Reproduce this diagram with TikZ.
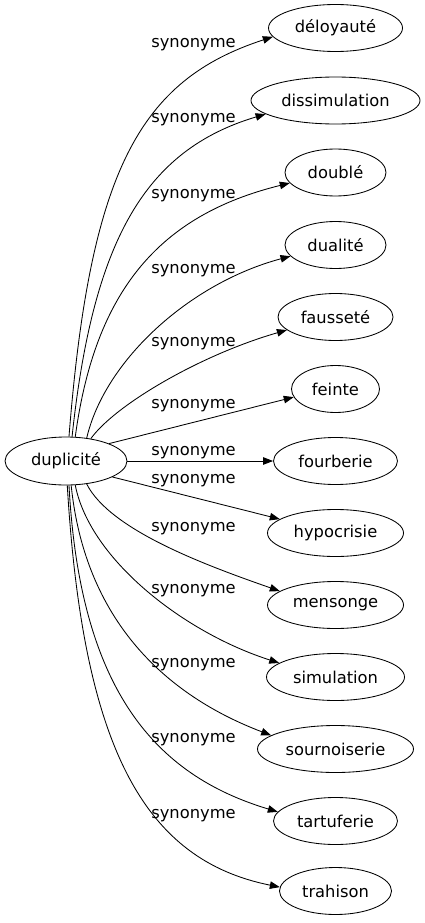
\documentclass[tikz,border=0pt]{standalone}
\usepackage{fontspec}
\setmainfont{DejaVu Sans}
\usetikzlibrary{arrows.meta,shapes.geometric}
\begin{document}
\begin{tikzpicture}[x=1pt,y=-1pt,
  word/.style={draw, ellipse, inner sep=0pt, minimum height=47pt, line width=0.85pt, font=\fontsize{16.3}{19}\selectfont},
  edge/.style={line width=0.85pt, -{Triangle[length=10pt,width=7.5pt]}},
  lbl/.style={font=\fontsize{16.3}{19}\selectfont, inner sep=0pt}]
\useasboundingbox (0,0) rectangle (425,923);
\node[word, minimum width=122pt, minimum height=48pt] (src) at (66,461) {duplicité};
\node[word, minimum width=134pt] (t1) at (335.5,28) {déloyauté};
\node[word, minimum width=169pt] (t2) at (335.5,100.5) {dissimulation};
\node[word, minimum width=101pt] (t3) at (335.5,172.5) {doublé};
\node[word, minimum width=101pt] (t4) at (335.5,245) {dualité};
\node[word, minimum width=115pt] (t5) at (335.5,317) {fausseté};
\node[word, minimum width=88pt] (t6) at (335.5,389) {feinte};
\node[word, minimum width=124pt] (t7) at (335.5,461) {fourberie};
\node[word, minimum width=136pt] (t8) at (335.5,533) {hypocrisie};
\node[word, minimum width=136pt] (t9) at (335.5,605) {mensonge};
\node[word, minimum width=138pt] (t10) at (335.5,677) {simulation};
\node[word, minimum width=156pt] (t11) at (335.5,749) {sournoiserie};
\node[word, minimum width=124pt] (t12) at (335.5,821) {tartuferie};
\node[word, minimum width=112pt] (t13) at (335.5,891) {trahison};

\node[lbl] (l1) at (193.5,45) {synonyme};
\node[lbl] (l2) at (193.5,120) {synonyme};
\node[lbl] (l3) at (193.5,196) {synonyme};
\node[lbl] (l4) at (193.5,271) {synonyme};
\node[lbl] (l5) at (193.5,344) {synonyme};
\node[lbl] (l6) at (193.5,406) {synonyme};
\node[lbl] (l7) at (193.5,453) {synonyme};
\node[lbl] (l8) at (193.5,481) {synonyme};
\node[lbl] (l9) at (193.5,529) {synonyme};
\node[lbl] (l10) at (193.5,591) {synonyme};
\node[lbl] (l11) at (193.5,665) {synonyme};
\node[lbl] (l12) at (193.5,740) {synonyme};
\node[lbl] (l13) at (193.5,816) {synonyme};

\draw[edge] (src.83) .. controls (90,170) and (140,80) .. (t1.188);
\draw[edge] (src.76) .. controls (93,240) and (145,150) .. (t2.191.7);
\draw[edge] (src.69) .. controls (95,290) and (160,215) .. (t3.193);
\draw[edge] (src.48) .. controls (105,360) and (190,283) .. (t4.194);
\draw[edge] (src.42) .. controls (115,405) and (200,355) .. (t5.195);
\draw[edge] (src.22) -- (t6.191);
\draw[edge] (src.east) -- (t7.west);
\draw[edge] (src.-19) -- (t8.166);
\draw[edge] (src.-48) .. controls (110,530) and (205,565) .. (t9.166);
\draw[edge] (src.-69) .. controls (90,560) and (185,633) .. (t10.166);
\draw[edge] (src.-78) .. controls (85,620) and (165,695) .. (t11.168);
\draw[edge] (src.-83) .. controls (80,690) and (155,775) .. (t12.171);
\draw[edge] (src.-87) .. controls (83,750) and (145,860) .. (t13.176);
\end{tikzpicture}
\end{document}
